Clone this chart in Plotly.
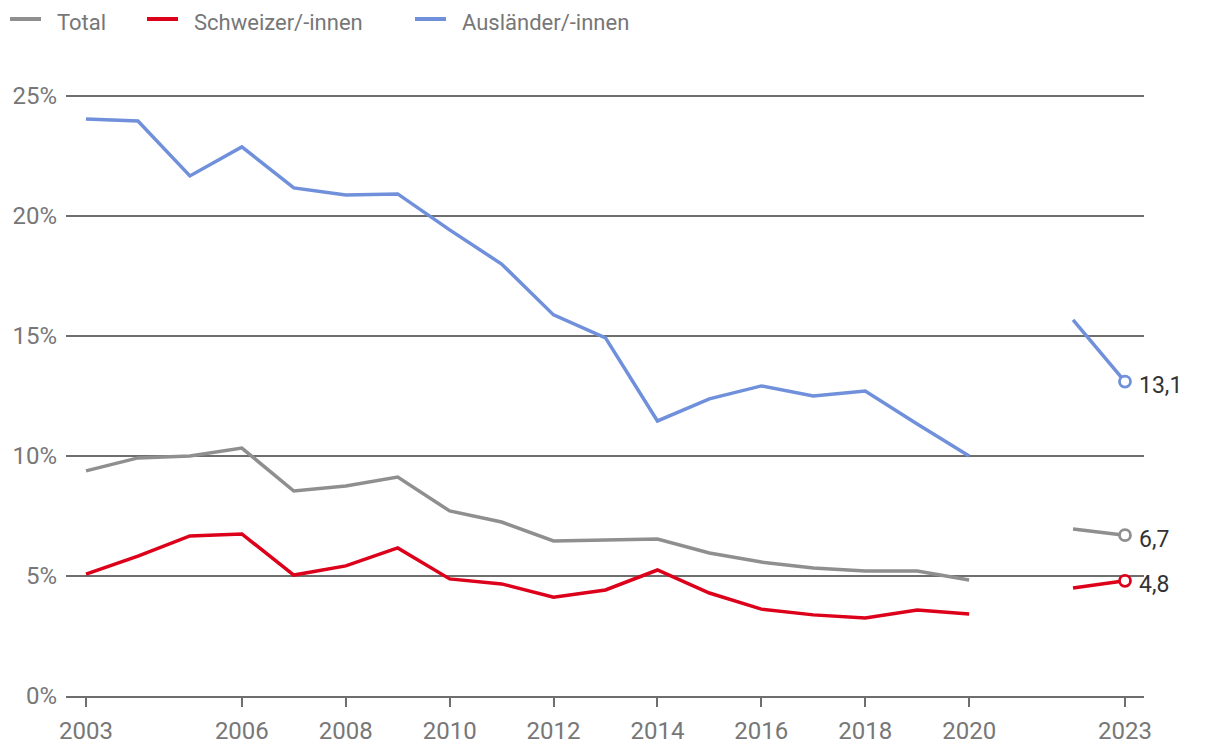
import plotly.graph_objects as go

years = [2003, 2004, 2005, 2006, 2007, 2008, 2009, 2010, 2011, 2012, 2013,
         2014, 2015, 2016, 2017, 2018, 2019, 2020, 2021, 2022, 2023]
total = [9.38, 9.92, 10.0, 10.33, 8.54, 8.75, 9.12, 7.71, 7.25, 6.46, 6.5,
         6.54, 5.96, 5.58, 5.33, 5.21, 5.21, 4.83, None, 6.96, 6.7]
schweizer = [5.08, 5.83, 6.67, 6.75, 5.04, 5.42, 6.17, 4.88, 4.67, 4.12, 4.42,
             5.25, 4.29, 3.62, 3.38, 3.25, 3.58, 3.42, None, 4.5, 4.8]
auslaender = [24.04, 23.96, 21.67, 22.88, 21.17, 20.88, 20.92, 19.42, 18.0, 15.88, 14.92,
              11.46, 12.38, 12.92, 12.5, 12.71, 11.33, 10.0, None, 15.67, 13.1]
series_names = ["Total", "Schweizer/-innen", "Ausländer/-innen"]
series_values = [total, schweizer, auslaender]
colors = ["#8f8f8f", "#dc001b", "#7090db"]
x_ticks = [2003, 2006, 2008, 2010, 2012, 2014, 2016, 2018, 2020, 2023]
y_ticks = [0, 5, 10, 15, 20, 25]

# layout geometry (pixels); the page adds an 8px body margin at top/left
OFF = 8
W, H = 1220 - OFF, 756 - OFF
ML, MR, MT, MB = 66 - OFF, 76, 84 - OFF, 60
PW, PH = W - ML - MR, H - MT - MB
legend_px = [10, 147, 415]   # left edge of each legend swatch (screen px)
legend_text_py = 23
legend_line_py = 19

def px2paper_x(px):
    return (px - OFF - ML) / PW

def py2paper_y(py):
    return (H - MB - (py - OFF)) / PH

fig = go.Figure()
for name, vals, col in zip(series_names, series_values, colors):
    fig.add_trace(go.Scatter(x=years, y=vals, mode="lines", name=name,
                             line=dict(color=col, width=3.5),
                             connectgaps=False, showlegend=False))
for name, vals, col in zip(series_names, series_values, colors):
    fig.add_trace(go.Scatter(x=[years[-1]], y=[vals[-1]], mode="markers",
                             showlegend=False,
                             marker=dict(symbol="circle", size=11, color="white",
                                         line=dict(color=col, width=2.8))))
    fig.add_annotation(x=years[-1], y=vals[-1], text=f"{vals[-1]:.1f}".replace(".", ","),
                       showarrow=False, xanchor="left", xshift=12, yshift=-4,
                       font=dict(size=23, color="#333333", family="Roboto"))

# legend (swatch + label)
for name, col, lx in zip(series_names, colors, legend_px):
    fig.add_shape(type="line", xref="paper", yref="paper",
                  x0=px2paper_x(lx), x1=px2paper_x(lx + 31),
                  y0=py2paper_y(legend_line_py), y1=py2paper_y(legend_line_py),
                  line=dict(color=col, width=4))
    fig.add_annotation(xref="paper", yref="paper", x=px2paper_x(lx + 46),
                       y=py2paper_y(legend_text_py), text=name, showarrow=False,
                       xanchor="left", yanchor="middle", borderpad=0,
                       font=dict(size=22, color="#777777", family="Roboto"))

fig.update_layout(
    template="none",
    width=W, height=H,
    margin=dict(l=ML, r=MR, t=MT, b=MB),
    plot_bgcolor="white", paper_bgcolor="white",
    font=dict(family="Roboto", size=24, color="#777777"),
    showlegend=False,
    xaxis=dict(range=[2002.615, 2023.366], tickvals=x_ticks,
               ticktext=[str(t) for t in x_ticks], automargin=False,
               showgrid=False, zeroline=False, showline=True,
               linecolor="#6e6e6e", linewidth=1.6,
               ticks="outside", ticklen=9, tickwidth=1.6, tickcolor="#6e6e6e",
               ticklabelstandoff=3,
               tickfont=dict(size=24, color="#777777")),
    yaxis=dict(range=[0, 25.5], tickvals=y_ticks, automargin=False,
               ticktext=[f"{t}%" for t in y_ticks],
               showgrid=True, gridcolor="#6e6e6e", gridwidth=1.6,
               zeroline=False, showline=False, ticks="",
               ticklabelstandoff=8,
               tickfont=dict(size=24, color="#777777")),
)
fig.write_html("out.html")
